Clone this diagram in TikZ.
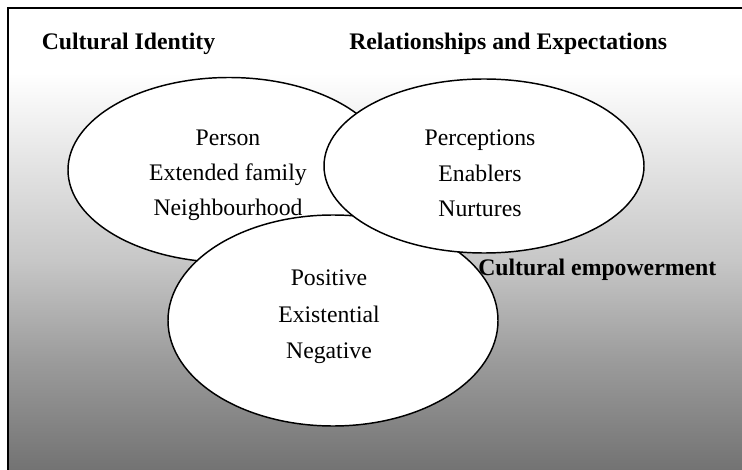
\documentclass[tikz,border=0pt]{standalone}
\usepackage{fontspec}
\setmainfont{Liberation Serif}
\usetikzlibrary{shapes.geometric}
\pgfdeclareverticalshading{panelshade}{100bp}{color(0bp)=(black!55); color(25bp)=(black!55); color(36.9bp)=(black!39); color(47.7bp)=(black!22); color(68bp)=(white); color(100bp)=(white)}
\begin{document}
\begin{tikzpicture}[x=0.75pt,y=-0.75pt,
  every node/.style={inner sep=0pt},
  txt/.style={font=\fontsize{17.8}{21}\selectfont, anchor=base},
  head/.style={font=\fontsize{17.8}{21}\selectfont\bfseries, anchor=base west},
  circ/.style={ellipse, draw=black, line width=1.1pt, fill=white}]
\useasboundingbox (0,0) rectangle (742,470);
% shaded panel with its framing edges
\shade[shading=panelshade] (8,8) rectangle (742,470);
\draw[line width=1.6pt] (8,470) -- (8,8) -- (742,8);
% the three overlapping ellipses
\node[circ, minimum width=322*0.75pt, minimum height=185*0.75pt] (identity) at (229,170) {};
\node[circ, minimum width=330*0.75pt, minimum height=211*0.75pt] (empower) at (333,320.5) {};
\node[circ, minimum width=320*0.75pt, minimum height=174*0.75pt] (relations) at (484,166) {};
% headings
\node[head] (hIdentity) at (41.5,50) {Cultural Identity};
\node[head] (hRelations) at (349,50) {Relationships and Expectations};
\node[head] (hEmpower) at (478,276) {Cultural empowerment};
% ellipse contents
\node[txt] (person) at (228,146) {Person};
\node[txt] (family) at (228,181) {Extended family};
\node[txt] (hood) at (228,216) {Neighbourhood};
\node[txt] (percep) at (480,146) {Perceptions};
\node[txt] (enable) at (480,182) {Enablers};
\node[txt] (nurture) at (480,217) {Nurtures};
\node[txt] (positive) at (329,286) {Positive};
\node[txt] (exist) at (329,322) {Existential};
\node[txt] (negative) at (329,358) {Negative};
\end{tikzpicture}
\end{document}
